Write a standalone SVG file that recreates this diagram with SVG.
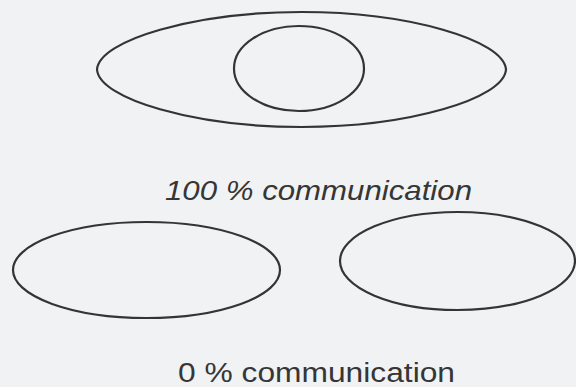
<svg xmlns="http://www.w3.org/2000/svg" width="576" height="387" viewBox="0 0 576 387">
<style>
.shape{fill:none;stroke:#343434;stroke-width:2.2}
.lbl{font-family:"Liberation Sans",Arial,sans-serif;fill:#363636;text-anchor:start}
</style>
<rect x="0" y="0" width="576" height="387" fill="#f1f2f4"/>
<g id="top-outer"><path class="shape" d="M97,69.5 C99,40 195,12 301.5,12 C408,12 504,40 506,69.5 C504,99 408,127 301.5,127 C195,127 99,99 97,69.5 Z"/></g>
<g id="top-inner"><ellipse class="shape" cx="299" cy="68.5" rx="65" ry="42.5"/></g>
<g id="label-100"><text class="lbl" x="165" y="200" font-size="28" font-style="italic" textLength="307" lengthAdjust="spacingAndGlyphs">100 % communication</text></g>
<g id="bottom-left"><ellipse class="shape" cx="146.5" cy="270" rx="133.5" ry="48"/></g>
<g id="bottom-right"><ellipse class="shape" cx="457.5" cy="261" rx="117.5" ry="49"/></g>
<g id="label-0"><text class="lbl" x="178" y="382" font-size="27" textLength="277" lengthAdjust="spacingAndGlyphs">0 % communication</text></g>
<g id="connectors"/>
</svg>
